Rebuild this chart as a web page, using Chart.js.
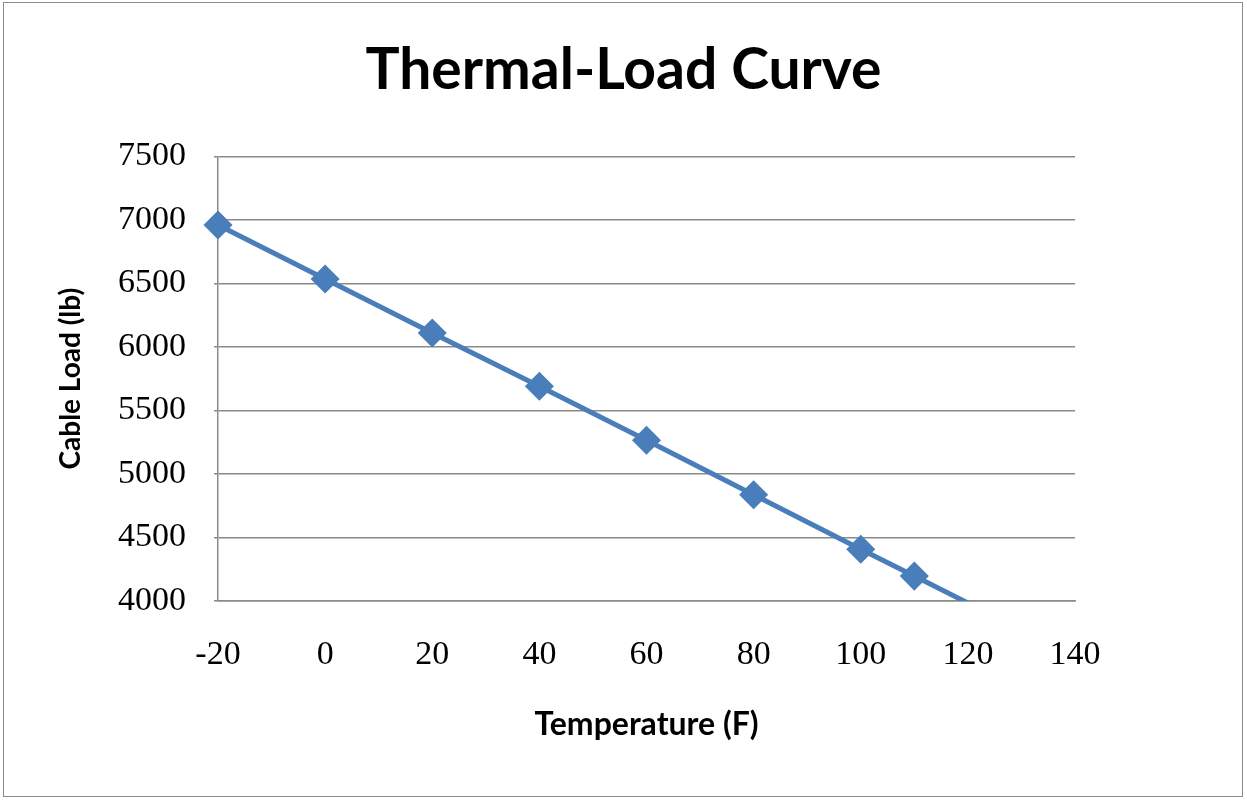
<!DOCTYPE html>
<html>
<head>
<meta charset="utf-8">
<script src="https://cdn.jsdelivr.net/npm/chart.js@4/dist/chart.umd.min.js"></script>
<style>
  html, body { margin: 0; padding: 0; background: #fff; }
  #wrap { position: absolute; left: 0; top: 0; width: 1247px; height: 802px; }
  #frame { position: absolute; left: 3px; top: 2px; width: 1238px; height: 793px; border: 1.5px solid #8a8a8a; pointer-events: none; }
</style>
</head>
<body>
<div id="wrap">
  <canvas id="myChart" width="1247" height="802"></canvas>
  <div id="frame"></div>
</div>
<script>
var temps = [-20, 0, 20, 40, 60, 80, 100, 110, 120];
var loads = [6960, 6535, 6110, 5690, 5266, 4836, 4408, 4196, 3985];
var yMin = 4000;
var yMax = 7500;

var points = temps.map(function (t, i) {
  return { x: t, y: loads[i] };
});

// keep the title centred on the whole canvas, not only the plot side
var titleCenter = {
  id: "titleCenter",
  afterLayout: function (chart) {
    var tb = chart.titleBlock;
    if (tb) {
      tb.left = 0;
      tb.right = chart.width;
      tb.width = chart.width;
    }
  },
};

var ctx = document.getElementById("myChart").getContext("2d");

var myChart = new Chart(ctx, {
  type: "scatter",
  data: {
    datasets: [
      {
        label: "Cable Load",
        data: points,
        showLine: true,
        borderColor: "#4a7ebb",
        backgroundColor: "#4a7ebb",
        borderWidth: 5,
        pointStyle: "rectRot",
        pointRadius: function (c) {
          var v = c.raw && c.raw.y;
          return v < yMin ? 0 : 11;
        },
        pointHoverRadius: 11,
        clip: { left: false, top: false, right: false, bottom: 0 },
      },
    ],
  },
  options: {
    responsive: false,
    animation: false,
    layout: { padding: { left: 0, right: 172, top: 0, bottom: 0 } },
    plugins: {
      legend: { display: false },
      tooltip: { enabled: false },
      title: {
        display: true,
        text: "Thermal-Load Curve",
        color: "#000",
        font: { family: "Lato", size: 57, weight: "bold", lineHeight: 1.2 },
        padding: { top: 36, bottom: 52 },
      },
    },
    scales: {
      x: {
        type: "linear",
        min: -20,
        max: 140,
        afterFit: function (scale) {
          scale.height = 201;
        },
        ticks: {
          stepSize: 20,
          padding: 34,
          color: "#000",
          font: { family: "Liberation Serif", size: 34 },
          callback: function (v) {
            return String(v);
          },
        },
        grid: { drawOnChartArea: false, drawTicks: false },
        border: { display: true, color: "#8a8a8a", width: 1.5 },
        title: {
          display: true,
          text: "Temperature (F)",
          color: "#000",
          font: { family: "Lato", size: 32, weight: "bold", lineHeight: 1.2 },
          padding: { top: 0, bottom: 58 },
        },
      },
      y: {
        min: yMin,
        max: yMax,
        afterFit: function (scale) {
          scale.width = 218;
        },
        ticks: {
          stepSize: 500,
          padding: 28,
          color: "#000",
          font: { family: "Liberation Serif", size: 34 },
          callback: function (v) {
            return String(v);
          },
        },
        grid: { color: "#8a8a8a", lineWidth: 1.5, tickLength: 4 },
        border: { display: true, color: "#8a8a8a", width: 1.5 },
        title: {
          display: true,
          text: "Cable Load (lb)",
          color: "#000",
          font: { family: "Lato", size: 28, weight: "bold", lineHeight: 1.2 },
          padding: { top: 54, bottom: 0 },
        },
      },
    },
  },
  plugins: [titleCenter],
});
</script>
</body>
</html>
